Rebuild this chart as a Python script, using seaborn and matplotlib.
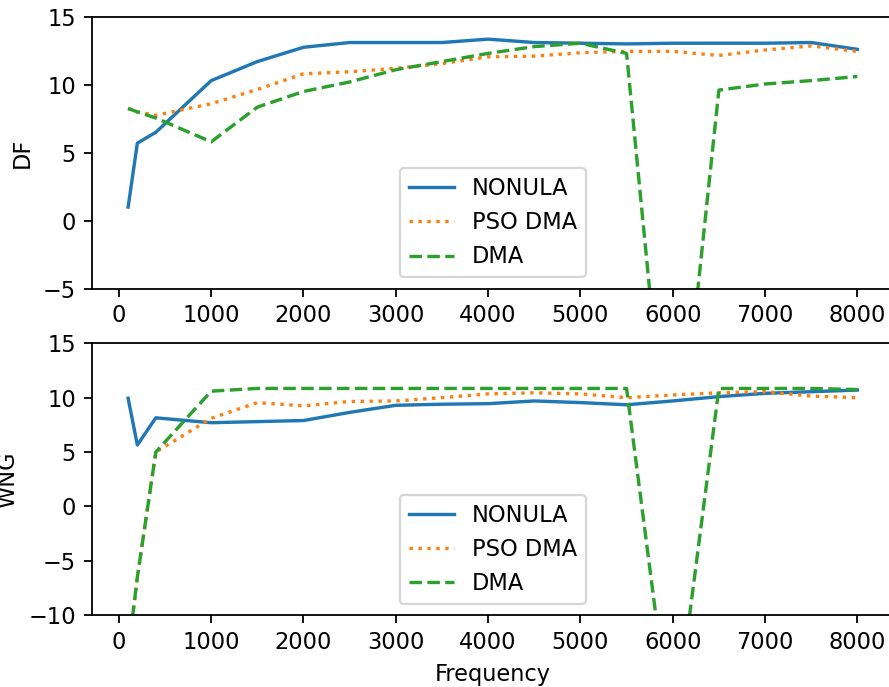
import matplotlib
matplotlib.use("Agg")
import matplotlib.pyplot as plt
import seaborn as sns
import pandas as pd

freq = [100, 200, 400, 1000, 1500, 2000, 2500, 3000, 3500, 4000,
        4500, 5000, 5500, 6000, 6500, 7000, 7500, 8000]

df_nonula = [1.0, 5.7, 6.5, 10.3, 11.7, 12.75, 13.1, 13.1, 13.1, 13.35,
             13.1, 13.05, 13.0, 13.05, 13.05, 13.05, 13.1, 12.6]
df_pso = [8.25, 8.0, 7.75, 8.6, 9.65, 10.8, 10.95, 11.2, 11.55, 12.05,
          12.1, 12.35, 12.45, 12.45, 12.15, 12.55, 12.85, 12.45]
df_dma = [8.25, 8.0, 7.55, 5.8, 8.35, 9.5, 10.2, 11.1, 11.7, 12.3,
          12.8, 13.05, 12.3, -22.5, 9.6, 10.05, 10.3, 10.6]

wng_nonula = [9.95, 5.65, 8.15, 7.7, 7.8, 7.9, 8.65, 9.3, 9.4, 9.45,
              9.7, 9.55, 9.35, 9.7, 10.1, 10.4, 10.55, 10.7]
wng_pso = [-13.5, -6.5, 5.0, 8.1, 9.55, 9.25, 9.65, 9.7, 10.0, 10.35,
           10.45, 10.35, 10.0, 10.25, 10.45, 10.55, 10.15, 10.0]
wng_dma = [-13.5, -6.5, 5.0, 10.6, 10.85, 10.85, 10.85, 10.85, 10.85, 10.85,
           10.85, 10.85, 10.85, -22.0, 10.85, 10.85, 10.85, 10.75]

labels = ["NONULA", "PSO DMA", "DMA"]
styles = ["-", ":", "--"]
colors = sns.color_palette("tab10", 3)

DPI = 162
fig = plt.figure(figsize=(889 / DPI, 687 / DPI), dpi=DPI)
ax1 = fig.add_axes([0.1031, 0.5798, 0.9023, 0.3959])
ax2 = fig.add_axes([0.1031, 0.1044, 0.9023, 0.3959])

for ax, series, ylab, ylim in [
    (ax1, [df_nonula, df_pso, df_dma], "DF", (-5, 15)),
    (ax2, [wng_nonula, wng_pso, wng_dma], "WNG", (-10, 15)),
]:
    for vals, lab, ls, c in zip(series, labels, styles, colors):
        d = pd.DataFrame({"Frequency": freq, "val": vals})
        sns.lineplot(data=d, x="Frequency", y="val", ax=ax, label=lab,
                     linestyle=ls, color=c, linewidth=1.5)
    ax.set_ylim(*ylim)
    ax.set_ylabel(ylab)
    ax.set_xlabel("")
    ax.legend(loc="lower center")

ax2.set_xlabel("Frequency")
fig.savefig("out.png", dpi=DPI)
